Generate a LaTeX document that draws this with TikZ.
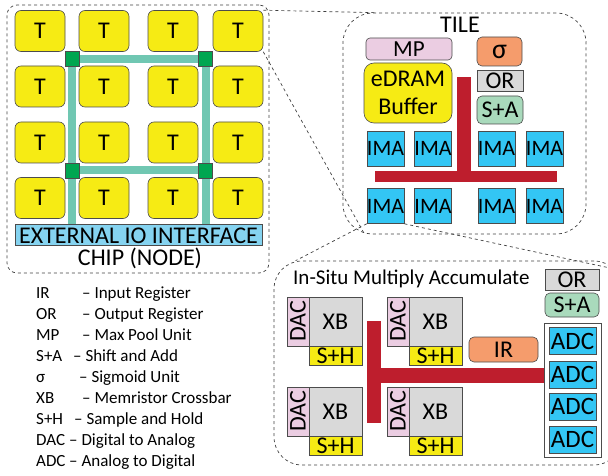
\documentclass[tikz,border=0pt]{standalone}
\usepackage{fontspec}
\setmainfont{Carlito}
\usetikzlibrary{backgrounds}
\definecolor{tileyellow}{HTML}{F6EB14}
\definecolor{routergreen}{HTML}{00A651}
\definecolor{linkteal}{HTML}{70C7B2}
\definecolor{ioblue}{HTML}{85D3F0}
\definecolor{mppink}{HTML}{EBCDE2}
\definecolor{sigorange}{HTML}{F59C6C}
\definecolor{regrey}{HTML}{D9D9D9}
\definecolor{sagreen}{HTML}{A9DABC}
\definecolor{imacyan}{HTML}{33C6F4}
\definecolor{busred}{HTML}{BE1E2D}
\tikzset{
  box/.style={draw=black!70, line width=0.6pt, inner sep=0pt},
  txt/.style={font=\fontsize{#1}{#1}\selectfont},
  zoombox/.style={draw=black!75, dashed, line width=0.7pt, inner sep=0pt},
  zoomline/.style={draw=black!75, dashed, line width=0.7pt},
}
\begin{document}
\begin{tikzpicture}[x=1pt, y=-1pt,
    tile/.style={box, fill=tileyellow, rounded corners=6pt, minimum width=50pt, minimum height=41pt, txt=24},
    router/.style={box, fill=routergreen, minimum width=14pt, minimum height=15pt},
    link/.style={linkteal, line width=8pt},
    ima/.style={box, fill=imacyan, minimum width=37pt, minimum height=35pt, txt=22},
    adc/.style={box, fill=imacyan, minimum width=47pt, minimum height=27pt, txt=25},
    dac/.style={box, fill=mppink, rotate=90, minimum width=49pt, minimum height=22pt, txt=24},
    xbar/.style={box, fill=regrey, minimum width=53pt, minimum height=49pt, txt=24},
    sh/.style={box, fill=tileyellow, minimum width=53pt, minimum height=19pt, txt=24},
    legend/.style={inner sep=0pt, anchor=base west, txt=17},
    bus/.style={fill=busred}]
  \useasboundingbox (0,0) rectangle (608,476);
  \clip (0,0) rectangle (608,476);

  \node[zoombox, rounded corners=10pt, minimum width=262pt, minimum height=268pt] (chip) at (138,139) {};
  \node[zoombox, rounded corners=30pt, minimum width=243pt, minimum height=221pt] (tilebox) at (464.5,123.5) {};
  \node[zoombox, rounded corners=28pt, minimum width=348pt, minimum height=204pt] (isma) at (448,363) {};

  \foreach \y [count=\r] in {31,86.5,142.5,198}
    \foreach \x [count=\c] in {40,104,173,238}
      \node[tile] (t-\r-\c) at (\x,\y) {T};
  \node[box, fill=ioblue, minimum width=247pt, minimum height=21pt, text height=19pt, text depth=2pt, txt=24] (io) at (138.5,234.5) {EXTERNAL IO INTERFACE};
  \node[txt=24, inner sep=0pt, anchor=base] (chiplabel) at (140,265) {CHIP (NODE)};
  \draw
    (72,59) node[router] (r-nw) {}
    (205.5,59) node[router] (r-ne) {}
    (72,170.5) node[router] (r-sw) {}
    (205.5,170.5) node[router] (r-se) {};
  \begin{scope}[on background layer]
    \draw[link] (r-nw) -- (r-ne);
    \draw[link] (r-sw) -- (r-se);
    \draw[link] (r-nw) -- (r-sw) -- (io.north -| r-sw);
    \draw[link] (r-ne) -- (r-se) -- (io.north -| r-se);
  \end{scope}

  \node[txt=24, inner sep=0pt, anchor=base] (tilelabel) at (460,33) {TILE};
  \node[box, fill=mppink, rounded corners=4pt, minimum width=86pt, minimum height=22pt, txt=23] (mp) at (409,49) {MP};
  \node[box, fill=sigorange, rounded corners=5pt, minimum width=45pt, minimum height=29pt, txt=28] (sig) at (499.5,51.5) {σ};
  \node[box, fill=tileyellow, rounded corners=10pt, minimum width=88pt, minimum height=60pt, align=center, font=\fontsize{24}{28}\selectfont] (edram) at (408,93) {eDRAM\\Buffer};
  \node[box, fill=regrey, minimum width=46pt, minimum height=21pt, txt=24] (or-t) at (500,80.5) {OR};
  \node[box, fill=sagreen, rounded corners=5pt, minimum width=46pt, minimum height=28pt, txt=24] (sa-t) at (500,110) {S+A};
  \fill[bus] (457,77) rectangle (471,182);
  \fill[bus] (375,171) rectangle (557,182);
  \foreach \y [count=\r] in {148.5,206}
    \foreach \x [count=\c] in {385.5,433,496.5,544.5}
      \node[ima] (ima-\r-\c) at (\x,\y) {IMA};

  \node[txt=21, inner sep=0pt, anchor=base west] (ismalabel) at (293,284) {In-Situ Multiply Accumulate};
  \node[box, fill=regrey, minimum width=54pt, minimum height=21pt, txt=24] (or-i) at (572,279.5) {OR};
  \node[box, fill=sagreen, rounded corners=5pt, minimum width=54pt, minimum height=24pt, txt=24] (sa-i) at (572,305) {S+A};
  \node[box, fill=white, minimum width=57pt, minimum height=134pt] (adcs) at (572.5,390) {};
  \foreach \y [count=\i] in {341,374.5,406.5,439.5}
    \node[adc] (adc-\i) at (572.5,\y) {ADC};
  \node[box, fill=sigorange, rounded corners=5pt, minimum width=69pt, minimum height=25pt, txt=24] (ir) at (503.5,349.5) {IR};
  \fill[bus] (367,321) rectangle (381,423);
  \fill[bus] (381,368) rectangle (adcs.west |- 0,383);
  \foreach \ux/\uy [count=\n] in {287/297, 387/297, 287/387, 387/387} {
    \node[dac] (dac-\n) at (\ux+11,\uy+24.5) {DAC};
    \node[xbar] (xb-\n) at (\ux+48.5,\uy+24.5) {XB};
    \node[sh] (sh-\n) at (\ux+48.5,\uy+58.5) {S+H};
  }

  \coordinate (isma-ne) at (610,268);
  \draw[zoomline] (t-1-4.north east) -- ([xshift=32pt]tilebox.north west);
  \draw[zoomline] (t-1-4.south east) -- ([xshift=22pt]tilebox.south west);
  \draw[zoomline] (ima-2-1.south west) -- ([xshift=22pt]isma.north west);
  \draw[zoomline] (ima-2-1.south east) -- (isma-ne);

  \foreach \ab/\dx/\ds [count=\i] in {IR/82/Input Register, OR/82/Output Register, MP/82/Max Pool Unit, S+A/73/Shift and Add, σ/79/Sigmoid Unit, XB/82/Memristor Crossbar, S+H/74/Sample and Hold, DAC/69/Digital to Analog, ADC/69/Analog to Digital} {
    \node[legend] (ab-\i) at (36,277+21*\i) {\ab};
    \node[legend] (ds-\i) at (\dx,277+21*\i) {– \ds};
  }
\end{tikzpicture}
\end{document}
